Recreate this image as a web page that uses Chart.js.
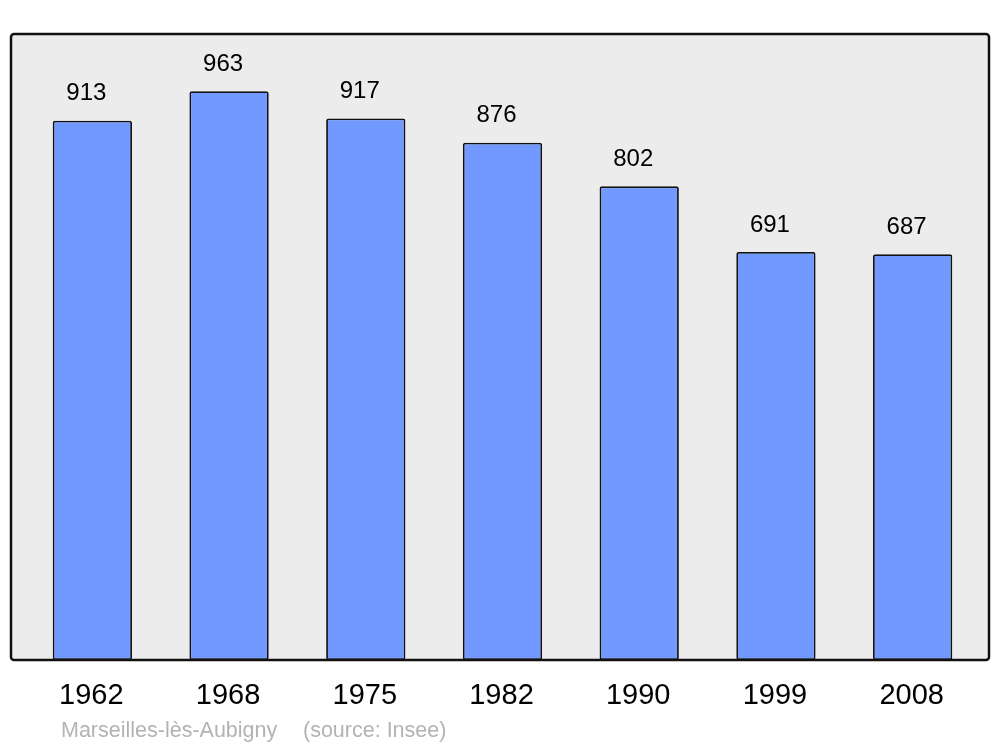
<!DOCTYPE html>
<html lang="fr">
  <head>
    <meta charset="UTF-8" />
    <title>Marseilles-lès-Aubigny - population</title>
    <script src="https://cdn.jsdelivr.net/npm/chart.js@4/dist/chart.umd.min.js"></script>
    <style>
      body {
        margin: 0;
        background: #ffffff;
      }
      .wrap {
        position: relative;
        width: 1000px;
        height: 747px;
      }
    </style>
  </head>
  <body>
    <div class="wrap">
      <canvas id="popChart"></canvas>
    </div>

    <script>
      // données
      const years = ["1962", "1968", "1975", "1982", "1990", "1999", "2008"];
      const population = [913, 963, 917, 876, 802, 691, 687];
      const placeName = "Marseilles-lès-Aubigny";
      const sourceText = "(source: Insee)";

      const FONT = "'Liberation Sans', Arial, sans-serif";

      // fond gris + cadre noir autour de la zone du graphique
      const frame = {
        id: "frame",
        beforeDatasetsDraw(chart) {
          const { ctx, chartArea } = chart;
          const x0 = chartArea.left - 13;
          const x1 = chartArea.right + 8;
          ctx.save();
          ctx.beginPath();
          ctx.roundRect(x0, chartArea.top, x1 - x0, chartArea.bottom - chartArea.top, 3);
          ctx.fillStyle = "#ececec";
          ctx.fill();
          ctx.restore();
        },
        afterDatasetsDraw(chart) {
          const { ctx, chartArea } = chart;
          const x0 = chartArea.left - 13;
          const x1 = chartArea.right + 8;
          ctx.save();
          ctx.beginPath();
          ctx.roundRect(x0, chartArea.top, x1 - x0, chartArea.bottom - chartArea.top, 3);
          ctx.lineWidth = 2.5;
          ctx.strokeStyle = "#111111";
          ctx.stroke();
          ctx.restore();
        },
      };

      // valeurs au-dessus des barres, années et source en dessous
      const labels = {
        id: "labels",
        afterDraw(chart) {
          const { ctx, chartArea } = chart;
          const xs = chart.scales.x;
          const ys = chart.scales.y;
          ctx.save();
          ctx.fillStyle = "#000000";
          ctx.textAlign = "center";
          ctx.textBaseline = "middle";
          ctx.font = "24px " + FONT;
          population.forEach((v, i) => {
            ctx.fillText(String(v), xs.getPixelForValue(i) - 6, ys.getPixelForValue(v) - 27);
          });
          ctx.font = "29px " + FONT;
          years.forEach((y, i) => {
            ctx.fillText(y, xs.getPixelForValue(i) - 1, chartArea.bottom + 36);
          });
          ctx.textAlign = "left";
          ctx.font = "21.5px " + FONT;
          ctx.fillStyle = "#b3b3b3";
          ctx.fillText(placeName, 61, chartArea.bottom + 71);
          ctx.fillText(sourceText, 303, chartArea.bottom + 71);
          ctx.restore();
        },
      };

      new Chart(document.getElementById("popChart"), {
        type: "bar",
        data: {
          labels: years,
          datasets: [
            {
              data: population,
              backgroundColor: "#7299ff",
              borderColor: "#111111",
              borderWidth: 1.8,
              borderRadius: 2,
              borderSkipped: false,
              categoryPercentage: 1,
              barPercentage: 0.58,
            },
          ],
        },
        options: {
          responsive: true,
          maintainAspectRatio: false,
          animation: false,
          layout: {
            padding: { left: 24, right: 19, top: 34, bottom: 87 },
          },
          scales: {
            x: { display: false },
            y: { display: false, min: 0, max: 1060 },
          },
          plugins: {
            legend: { display: false },
            tooltip: { enabled: false },
          },
        },
        plugins: [frame, labels],
      });
    </script>
  </body>
</html>
